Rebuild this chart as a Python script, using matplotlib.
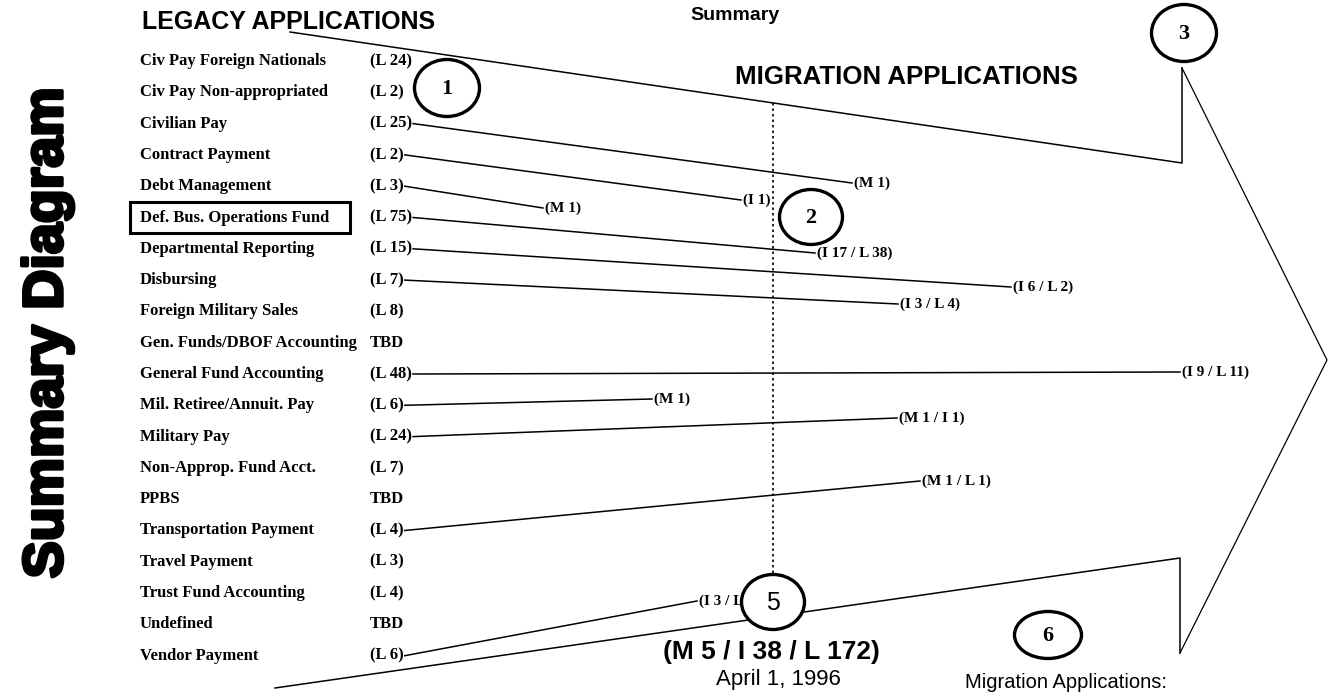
import matplotlib
matplotlib.use("Agg")
import matplotlib.pyplot as plt
import matplotlib.patheffects as pe
from matplotlib.patches import Ellipse, Rectangle

# legacy systems and their legacy application counts
rows = ["Civ Pay Foreign Nationals", "Civ Pay Non-appropriated", "Civilian Pay",
        "Contract Payment", "Debt Management", "Def. Bus. Operations Fund",
        "Departmental Reporting", "Disbursing", "Foreign Military Sales",
        "Gen. Funds/DBOF Accounting", "General Fund Accounting",
        "Mil. Retiree/Annuit. Pay", "Military Pay", "Non-Approp. Fund Acct.",
        "PPBS", "Transportation Payment", "Travel Payment",
        "Trust Fund Accounting", "Undefined", "Vendor Payment"]
legacy_counts = ["(L 24)", "(L 2)", "(L 25)", "(L 2)", "(L 3)", "(L 75)", "(L 15)",
                 "(L 7)", "(L 8)", "TBD", "(L 48)", "(L 6)", "(L 24)", "(L 7)",
                 "TBD", "(L 4)", "(L 3)", "(L 4)", "TBD", "(L 6)"]

# which rows migrate, and to what
link_rows = [2, 3, 4, 5, 6, 7, 10, 11, 12, 15, 19]
link_labels = ["(M 1)", "(I 1)", "(M 1)", "(I 17 / L 38)", "(I 6 / L 2)",
               "(I 3 / L 4)", "(I 9 / L 11)", "(M 1)", "(M 1 / I 1)",
               "(M 1 / L 1)", "(I 3 / L 1)"]
total_label = "(M 5 / I 38 / L 172)"
date_label = "April 1, 1996"

# layout (pixel space)
row_x, count_x = 140, 370
row_top, row_step = 61, 31.3
link_end_x = [852, 741, 543, 815, 1011, 898, 1180, 652, 897, 920, 697]
link_end_y = [183, 200, 208, 253, 287, 304, 372, 399, 418, 481, 601]
outline_x = [290, 1182, 1182, 1327, 1180, 1180, 275]
outline_y = [32, 163, 68, 360, 653, 558, 688]
circle_ids = ["1", "2", "3", "5", "6"]
circle_x = [447, 811, 1184, 773, 1048]
circle_y = [88, 217, 33, 602, 635]
circle_w = [65, 63, 65, 63, 67]
circle_h = [57, 55, 57, 55, 47]

W, H = 1332, 698
fig = plt.figure(figsize=(W / 100, H / 100), dpi=100)
ax = fig.add_axes([0, 0, 1, 1])
ax.set_xlim(0, W)
ax.set_ylim(H, 0)
ax.axis("off")

serif = ["Liberation Serif", "DejaVu Serif"]
sans = ["Liberation Sans", "DejaVu Sans"]

ax.text(48, 333, "Summary Diagram", rotation=90, ha="center", va="center",
        fontsize=40, fontweight="bold", family=sans,
        path_effects=[pe.withStroke(linewidth=2.5, foreground="black")])
ax.text(142, 22, "LEGACY APPLICATIONS", ha="left", va="center",
        fontsize=18, fontweight="bold", family=sans)
ax.text(735, 15, "Summary", ha="center", va="center",
        fontsize=14, fontweight="bold", family=sans)
ax.text(735, 77, "MIGRATION APPLICATIONS", ha="left", va="center",
        fontsize=18.6, fontweight="bold", family=sans)

renderer = fig.canvas.get_renderer()
inv = ax.transData.inverted()
row_y = [row_top + i * row_step for i in range(len(rows))]
count_end = []
for i, (name, cnt) in enumerate(zip(rows, legacy_counts)):
    ax.text(row_x, row_y[i], name, ha="left", va="center",
            fontsize=12, fontweight="bold", family=serif)
    t = ax.text(count_x, row_y[i], cnt, ha="left", va="center",
                fontsize=12, fontweight="bold", family=serif)
    bb = t.get_window_extent(renderer)
    count_end.append(inv.transform((bb.x1, bb.y0))[0])

# box round Def. Bus. Operations Fund
ax.add_patch(Rectangle((130, 202), 220, 31, fill=False, lw=2.2, ec="black"))

# migration links
for r, lab, ex, ey in zip(link_rows, link_labels, link_end_x, link_end_y):
    ax.plot([count_end[r] + 1, ex], [row_y[r], ey], color="black", lw=1.1, zorder=2)
    ax.text(ex + 2, ey, lab, ha="left", va="center", fontsize=11,
            fontweight="bold", family=serif, zorder=3)

# big arrow outline
ax.plot(outline_x[:3], outline_y[:3], color="black", lw=1.1, zorder=2)
ax.plot(outline_x[2:5], outline_y[2:5], color="black", lw=0.9, zorder=2)
ax.plot(outline_x[4:], outline_y[4:], color="black", lw=1.1, zorder=2)

# dotted cut-off line
ax.plot([773, 773], [103, 575], color="black", lw=1.2,
        linestyle=(0, (1.5, 1.8)), zorder=2)

for cid, cx, cy, cw, ch in zip(circle_ids, circle_x, circle_y, circle_w, circle_h):
    ax.add_patch(Ellipse((cx, cy), cw, ch, fc="white", ec="black", lw=2.4, zorder=4))
    fam = sans if cid == "5" else serif
    ax.text(cx, cy + 1, cid, ha="center", va="center", fontsize=18 if cid == "5" else 16,
            fontweight="normal" if cid == "5" else "bold", family=fam, zorder=5)

ax.text(771, 652, total_label, ha="center", va="center", fontsize=19,
        fontweight="bold", family=sans)
ax.text(778, 679, date_label, ha="center", va="center", fontsize=16, family=sans)
ax.text(1066, 683, "Migration Applications:", ha="center", va="center",
        fontsize=14.5, family=sans)

fig.savefig("out.png", dpi=100)
plt.close(fig)
